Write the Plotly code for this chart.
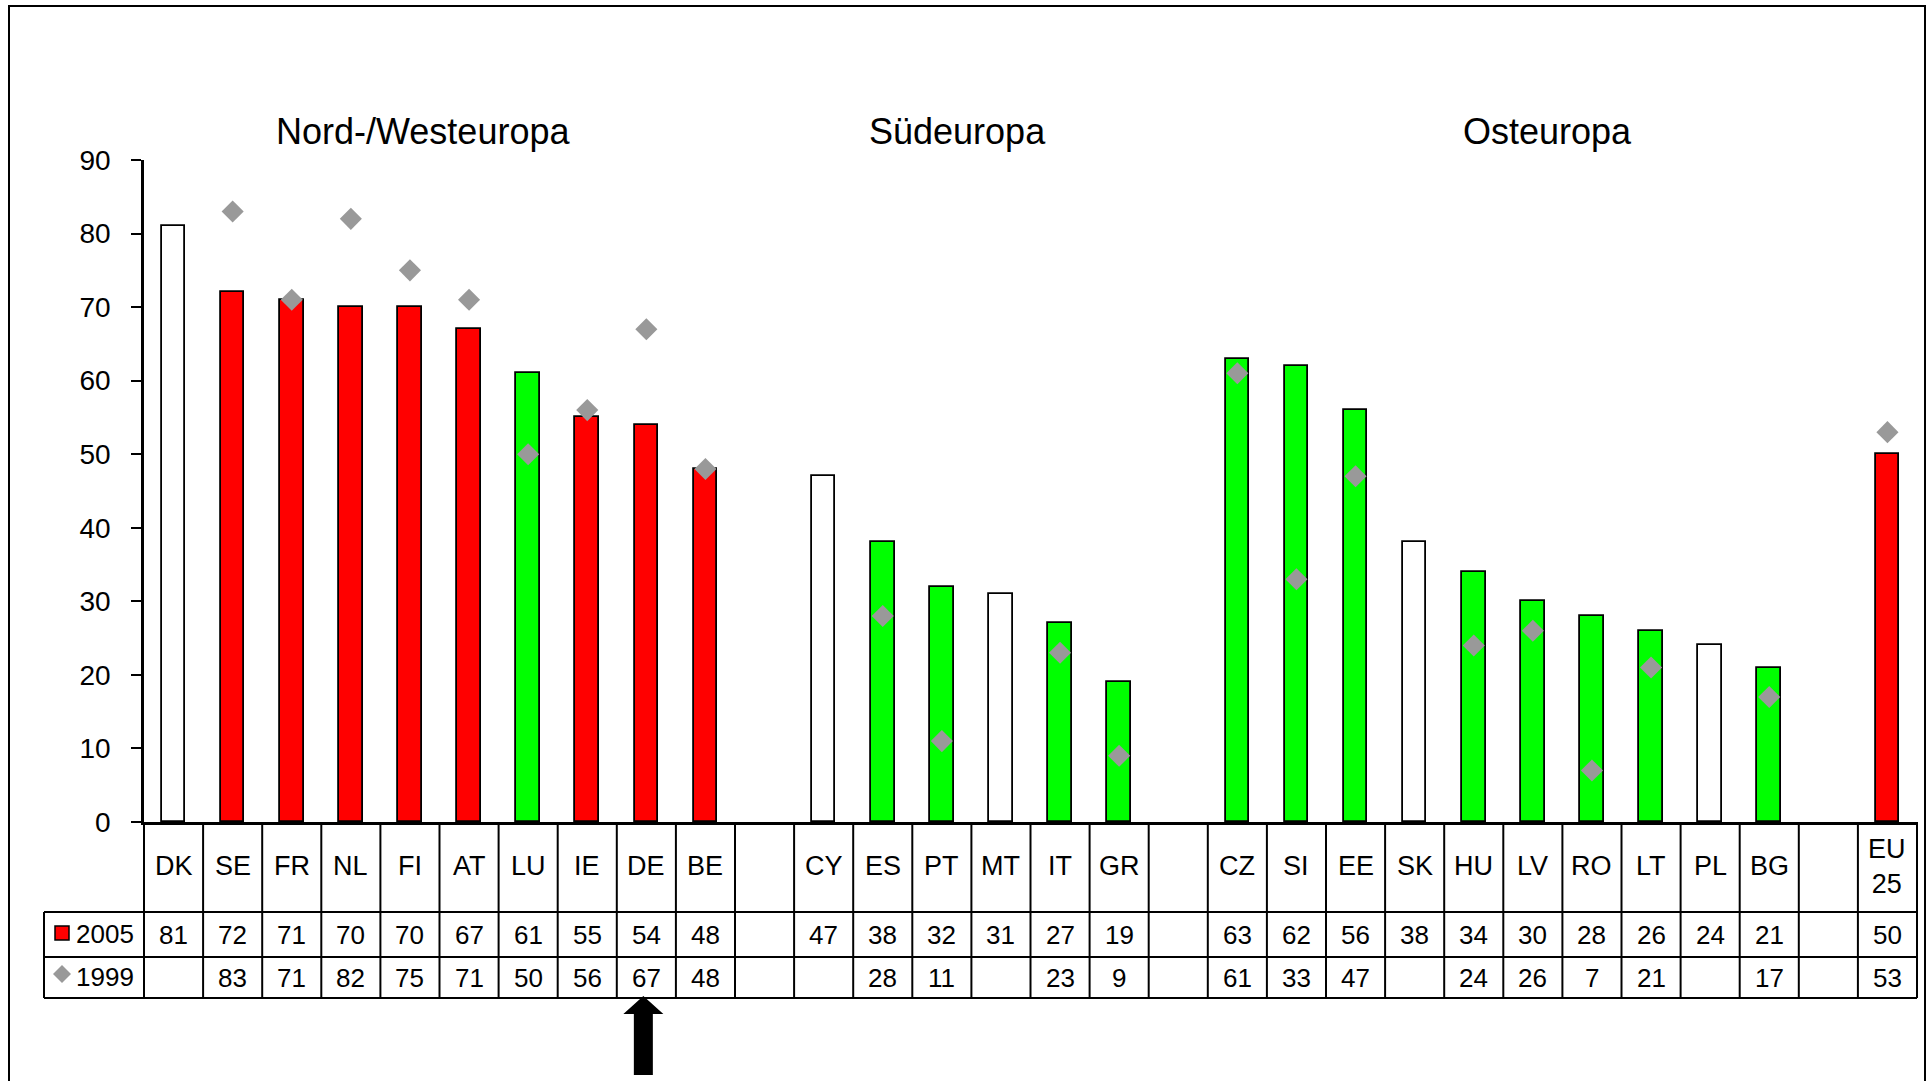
import plotly.graph_objects as go

# ---------------- data ----------------
region_names = ["Nord-/Westeuropa", "Südeuropa", "Osteuropa", ""]
nw_countries = ["DK", "SE", "FR", "NL", "FI", "AT", "LU", "IE", "DE", "BE"]
nw_2005 = [81, 72, 71, 70, 70, 67, 61, 55, 54, 48]
nw_1999 = [None, 83, 71, 82, 75, 71, 50, 56, 67, 48]
s_countries = ["CY", "ES", "PT", "MT", "IT", "GR"]
s_2005 = [47, 38, 32, 31, 27, 19]
s_1999 = [None, 28, 11, None, 23, 9]
e_countries = ["CZ", "SI", "EE", "SK", "HU", "LV", "RO", "LT", "PL", "BG"]
e_2005 = [63, 62, 56, 38, 34, 30, 28, 26, 24, 21]
e_1999 = [61, 33, 47, None, 24, 26, 7, 21, None, 17]
eu_countries = ["EU<br>25"]
eu_2005 = [50]
eu_1999 = [53]
series_names = ["2005", "1999"]
y_ticks = [0, 10, 20, 30, 40, 50, 60, 70, 80, 90]
highlight_country = "DE"

groups = [
    (nw_countries, nw_2005, nw_1999),
    (s_countries, s_2005, s_1999),
    (e_countries, e_2005, e_1999),
    (eu_countries, eu_2005, eu_1999),
]

# ---------------- layout geometry ----------------
W, H = 1930, 1081
L, R, T, B = 144, 13, 160, 259
PW, PH = W - L - R, H - T - B

def px(X):
    return (X - L) / PW

def py(Y):
    return (H - B - Y) / PH

# assign slots (one empty slot between groups)
slots, labels, v05, v99 = [], [], [], []
s = 0
for gi, (cs, a, b) in enumerate(groups):
    for c, x1, x2 in zip(cs, a, b):
        slots.append(s); labels.append(c); v05.append(x1); v99.append(x2)
        s += 1
    if gi < len(groups) - 1:
        s += 1
n_slots = s

RED, GREEN, GREY = "#FF0000", "#00FF00", "#999999"
colors = []
for a, b in zip(v05, v99):
    if b is None:
        colors.append("white")
    elif b >= a:
        colors.append(RED)
    else:
        colors.append(GREEN)

FONT = "Liberation Sans, Arial, sans-serif"

fig = go.Figure()
fig.add_trace(go.Bar(
    x=slots, y=v05, width=0.4, name=series_names[0],
    marker=dict(color=colors, line=dict(color="black", width=1.8)),
))
fig.add_trace(go.Scatter(
    x=slots, y=v99, mode="markers", name=series_names[1],
    marker=dict(symbol="diamond", size=17, color=GREY, line=dict(width=0)),
))

shapes = []
LW = 2
# outer frame
shapes.append(dict(type="rect", xref="paper", yref="paper",
                   x0=px(9), x1=px(1925), y0=py(1095), y1=py(6),
                   line=dict(color="black", width=2), fillcolor="rgba(0,0,0,0)", layer="below"))

# table geometry (pixel rows)
Y_AX, Y_R1, Y_R2, Y_R3 = 822, 912, 957, 998
X_LEFT = 44
for k in range(n_slots + 1):
    xp = k / n_slots
    shapes.append(dict(type="line", xref="paper", yref="paper",
                       x0=xp, x1=xp, y0=py(Y_AX), y1=py(Y_R3),
                       line=dict(color="black", width=LW)))
for Yr in (Y_R1, Y_R2, Y_R3):
    shapes.append(dict(type="line", xref="paper", yref="paper",
                       x0=px(X_LEFT), x1=1, y0=py(Yr), y1=py(Yr),
                       line=dict(color="black", width=LW)))
shapes.append(dict(type="line", xref="paper", yref="paper",
                   x0=px(X_LEFT), x1=px(X_LEFT), y0=py(Y_R1), y1=py(Y_R3),
                   line=dict(color="black", width=LW)))

# legend markers inside table
shapes.append(dict(type="rect", xref="paper", yref="paper",
                   x0=px(55), x1=px(69), y0=py(940), y1=py(926),
                   fillcolor=RED, line=dict(color="black", width=1.5)))
cx, cy, r = 62, 974, 9
shapes.append(dict(type="path", xref="paper", yref="paper",
                   path=f"M {px(cx-r)},{py(cy)} L {px(cx)},{py(cy-r)} L {px(cx+r)},{py(cy)} L {px(cx)},{py(cy+r)} Z",
                   fillcolor=GREY, line=dict(width=0)))

# arrow under highlighted country
hi = slots[labels.index(highlight_country)]
ax = L + (hi + 0.5) / n_slots * PW - 3
tip, base, bot = 996, 1014, 1075
hw, sw = 20, 9.5
shapes.append(dict(type="path", xref="paper", yref="paper",
                   path=(f"M {px(ax)},{py(tip)} L {px(ax+hw)},{py(base)} L {px(ax+sw)},{py(base)} "
                         f"L {px(ax+sw)},{py(bot)} L {px(ax-sw)},{py(bot)} L {px(ax-sw)},{py(base)} "
                         f"L {px(ax-hw)},{py(base)} Z"),
                   fillcolor="black", line=dict(width=0)))

annotations = []
def ann(x, y, text, size, xref="x", xanchor="center"):
    annotations.append(dict(x=x, y=y, xref=xref, yref="paper", text=text, showarrow=False,
                            xanchor=xanchor, yanchor="middle",
                            font=dict(family=FONT, size=size, color="black")))

for sl, lab, a, b in zip(slots, labels, v05, v99):
    ann(sl, py(866), lab, 27)
    ann(sl, py(935), str(a), 26)
    if b is not None:
        ann(sl, py(978), str(b), 26)

ann(px(74), py(934), series_names[0], 26, xref="paper", xanchor="left")
ann(px(74), py(977), series_names[1], 26, xref="paper", xanchor="left")

# region titles
title_px = [423, 957, 1547]
for name, X in zip(region_names, title_px):
    ann(px(X), py(132), name, 36, xref="paper")

fig.update_layout(
    width=W, height=H,
    margin=dict(l=L, r=R, t=T, b=B, pad=0),
    plot_bgcolor="white", paper_bgcolor="white",
    showlegend=False, hovermode=False,
    bargap=0,
    shapes=shapes, annotations=annotations,
    font=dict(family=FONT, color="black"),
    xaxis=dict(range=[-0.5, n_slots - 0.5], showgrid=False, zeroline=False,
               showticklabels=False, ticks="", showline=True, linecolor="black", linewidth=2.5),
    yaxis=dict(range=[0, 90], tickvals=y_ticks, showgrid=False, zeroline=False,
               showline=True, linecolor="black", linewidth=2.5,
               ticks="outside", ticklen=10, tickwidth=2, tickcolor="black",
               ticklabelstandoff=15,
               tickfont=dict(family=FONT, size=28, color="black")),
)

fig.write_html("out.html", config={"displayModeBar": False},
               post_script="document.body.style.margin='0';document.body.style.overflow='hidden';")
